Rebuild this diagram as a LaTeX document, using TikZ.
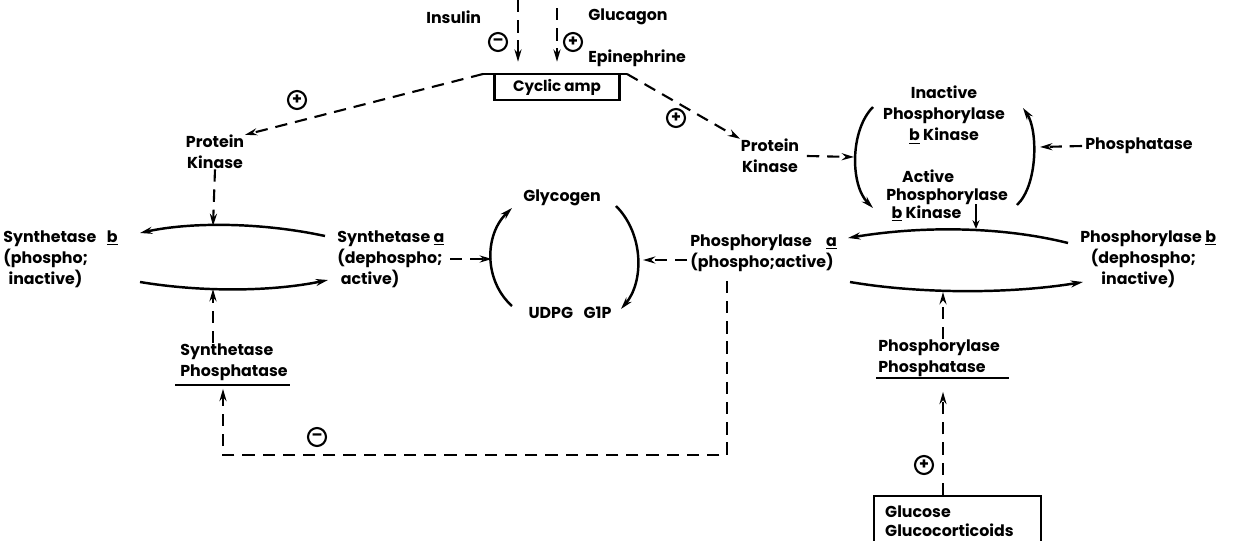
\documentclass[tikz,border=0pt]{standalone}
\usepackage{fontspec}
\setmainfont{Poppins}
\usetikzlibrary{arrows.meta}
\begin{document}
\begin{tikzpicture}[x=0.02cm,y=-0.02cm,
  lbl/.style={font=\fontsize{9}{12}\selectfont\bfseries, inner sep=0pt, align=left},
  sline/.style={line width=1.4pt},
  sarrow/.style={line width=1.4pt,-{Stealth[length=7pt,width=4pt]}},
  darrow/.style={line width=1.2pt,dash pattern=on 7pt off 4.5pt,-{Stealth[length=7pt,width=4pt]}},
  sgn/.style={circle,draw,line width=1.2pt,inner sep=0pt,minimum size=0.36cm,font=\fontsize{9}{9}\selectfont\bfseries},
  uline/.style={line width=1pt}]
\useasboundingbox (0,0) rectangle (1241,541);

% top: hormones and cyclic AMP
\node[lbl,anchor=west] (ins) at (426,17) {Insulin};
\node[sgn] (m1) at (498,42) {–};
\node[lbl,anchor=west] (glu) at (588,17) {Glucagon};
\node[sgn] (p1) at (573,42) {+};
\node[lbl,anchor=west] (epi) at (588,58) {Epinephrine};
\node[draw,sline,minimum width=2.5cm,minimum height=0.52cm,lbl,font=\fontsize{8.6}{10}\selectfont\bfseries] (camp) at (557,87) {Cyclic amp};
\coordinate (ins0) at (518,0);
\coordinate (glu0) at (557,8);
\draw[darrow,shorten >=0.22cm] (ins0) -- (ins0 |- camp.north);
\draw[darrow,shorten >=0.22cm] (glu0) -- (glu0 |- camp.north);
\coordinate (cl) at (483,74);
\coordinate (cr) at (627,74);
\draw[sline] (cl) -- (cr);

% protein kinases
\node[lbl,align=center] (pk1) at (215,152) {Protein\\Kinase};
\node[lbl,align=center] (pk2) at (770,156) {Protein\\Kinase};
\draw[darrow] (cl) -- ([shift={(0.5,0.14)}]pk1.north east);
\draw[darrow] (cr) -- ([shift={(-0.5,0.12)}]pk2.north west);
\node[sgn] (p2) at (297,100) {+};
\node[sgn] (p3) at (676,118) {+};

% synthetase interconversion
\node[lbl,anchor=west] (synb) at (3,259) {Synthetase\hspace{6pt}\underline{b}\\(phospho;\\\hspace{3pt}inactive)};
\node[lbl,anchor=west] (syna) at (337,259) {Synthetase \underline{a}\\(dephospho;\\\hspace{2pt}active)};
\coordinate (su1) at (325,236);
\coordinate (su2) at (140,233);
\coordinate (sl1) at (140,282);
\coordinate (sl2) at (328,280);
\draw[sarrow] (su1) .. controls (260,222) and (190,222) .. (su2);
\draw[sarrow] (sl1) .. controls (200,292) and (270,292) .. (sl2);
\coordinate (su) at (213,226);
\draw[darrow] (pk1.south) -- (su);

% glycogen cycle
\node[lbl] (glyc) at (562,198) {Glycogen};
\node[lbl] (udpg) at (570,313) {UDPG\hspace{6pt}G1P};
\coordinate (cLb) at (512,306);
\coordinate (cLt) at (512,208);
\coordinate (cRt) at (616,206);
\coordinate (cRb) at (621,309);
\draw[sarrow] (cLb) .. controls (484,281) and (484,235) .. (cLt);
\draw[sarrow] (cRt) .. controls (644,234) and (644,282) .. (cRb);
\coordinate (cL) at (492,259);
\coordinate (cR) at (643,260);
\draw[darrow] (450,259) -- (cL);

% phosphorylase interconversion
\node[lbl,anchor=west] (phosa) at (690,253) {Phosphorylase\hspace{8pt}\underline{a}\\(phospho;active)};
\draw[darrow] ([xshift=-0.06cm]cR -| phosa.west) -- (cR);
\node[lbl,anchor=west] (phosb) at (1080,259) {Phosphorylase \underline{b}\\\hspace{6pt}(dephospho;\\\hspace{12pt}inactive)};
\coordinate (pu1) at (1068,243);
\coordinate (pu2) at (848,238);
\coordinate (pl1) at (850,282);
\coordinate (pl2) at (1083,282);
\draw[sarrow] (pu1) .. controls (1000,226) and (920,226) .. (pu2);
\draw[sarrow] (pl1) .. controls (920,294) and (1010,294) .. (pl2);

% phosphorylase b kinase cycle
\node[lbl,align=center] (ikin) at (944,115) {Inactive\\Phosphorylase\\\underline{b} Kinase};
\node[lbl,anchor=west,font=\fontsize{9}{10}\selectfont\bfseries] (akin) at (886,196) {\hspace{9pt}Active\\Phosphorylase\\\hspace{3pt}\underline{b} Kinase};
\coordinate (kLt) at (873,107);
\coordinate (kLb) at (873,208);
\coordinate (kRb) at (1017,205);
\coordinate (kRt) at (1023,108);
\draw[sarrow] (kLt) .. controls (850,130) and (850,185) .. (kLb);
\draw[sarrow] (kRb) .. controls (1038,185) and (1038,130) .. (kRt);
\coordinate (kL) at (854,157);
\coordinate (kR) at (1040,147);
\draw[darrow] ([xshift=0.15cm]pk2.east) -- (kL);
\node[lbl,anchor=west] (ptase) at (1085,146) {Phosphatase};
\draw[darrow] ([xshift=-0.06cm]ptase.west) -- (kR);
\coordinate (ka1) at (976,204);
\coordinate (ka2) at (976,229);
\draw[sarrow,-{Stealth[length=5pt,width=4pt]}] (ka1) -- (ka2);

% phosphorylase phosphatase
\node[lbl,anchor=west] (pptase) at (878,358) {Phosphorylase\\Phosphatase};
\draw[uline] (876,378) -- (1009,378);
\coordinate (pl) at (943,292);
\draw[darrow] (pl |- pptase.north) -- (pl);
\node[draw,sline,anchor=north west,lbl,font=\fontsize{9}{10.5}\selectfont\bfseries,text width=2.9cm,inner xsep=0.22cm,inner ysep=0.2cm,align=left] (gbox) at (873,495) {Glucose\\Glucocorticoids};
\draw[darrow,shorten >=0.3cm] (gbox.north -| pl) -- (pl |- pptase.south);
\node[sgn] (p4) at (924,465) {+};

% synthetase phosphatase and feedback
\node[lbl,anchor=west] (sptase) at (180,362) {Synthetase\\Phosphatase};
\draw[uline] (175,385) -- (290,385);
\coordinate (sl) at (213,289);
\draw[darrow] (sl |- sptase.north) -- (sl);
\coordinate (fb1) at (727,455);
\coordinate (fb2) at (223,455);
\draw[darrow,shorten >=0.16cm,shorten <=0.18cm] (phosa.south -| fb1) -- (fb1) -- (fb2) -- (fb2 |- sptase.south);
\node[sgn] (m2) at (317,437) {–};
\end{tikzpicture}
\end{document}
